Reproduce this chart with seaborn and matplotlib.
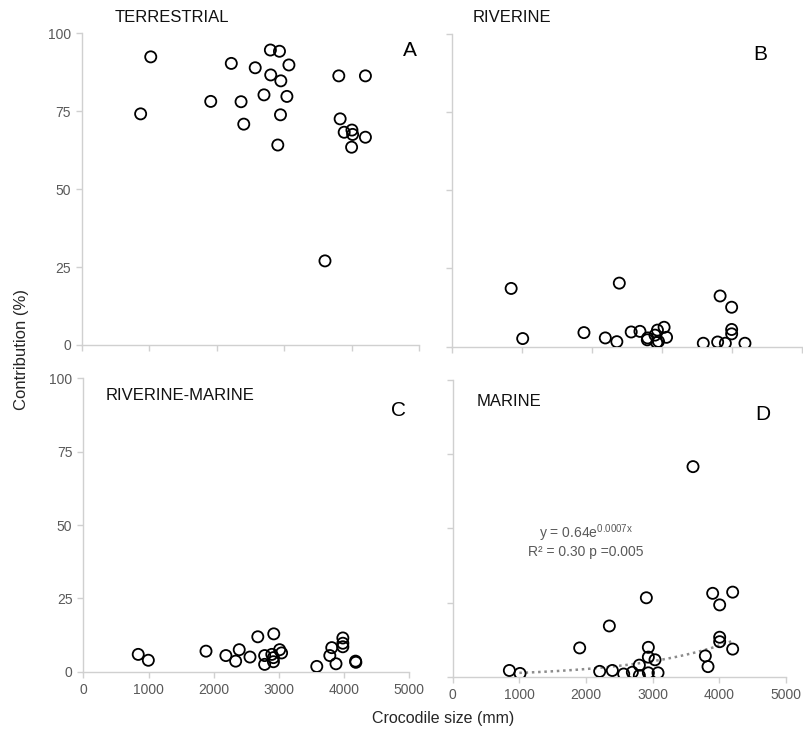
import numpy as np
import pandas as pd
import matplotlib
matplotlib.use("Agg")
import matplotlib.pyplot as plt
import seaborn as sns

# ----------- DATA -------------------------------------

terr_size = [1020, 870, 1910, 2215, 2360, 2400, 2570, 2700, 2795, 2930, 2800, 2950, 3070,
             3040, 2945, 2905, 3605, 3810, 4205, 3830, 3890, 4005, 4015, 4205, 4000]
terr_pct = [92.5, 74.2, 78.2, 90.4, 78.1, 70.9, 89.0, 80.3, 94.7, 94.3, 86.7, 84.8, 89.9,
            79.8, 73.9, 64.2, 27.0, 86.4, 86.4, 72.6, 68.3, 69.0, 67.6, 66.7, 63.5]

riv_size = [845, 1010, 1885, 2190, 2355, 2390, 2560, 2685, 2790, 2795, 2900, 2935, 2925,
            2950, 3030, 3065, 3590, 3795, 3830, 3905, 3995, 3995, 3995, 4185]
riv_pct = [18.6, 2.6, 4.5, 2.8, 1.6, 20.3, 4.7, 4.9, 2.2, 2.8, 3.7, 5.3, 1.3,
           1.7, 6.2, 3.0, 1.1, 1.5, 16.2, 1.1, 12.6, 5.5, 4.1, 1.1]

rm_size = [840, 995, 1880, 2185, 2335, 2390, 2555, 2675, 2780, 2780, 2890, 2920, 2915,
           2915, 3010, 3040, 3580, 3780, 3810, 3875, 3980, 3980, 3980, 4175, 4180]
rm_pct = [5.9, 3.9, 7.0, 5.5, 3.6, 7.5, 5.0, 11.9, 5.5, 2.5, 5.9, 12.9, 4.8,
          3.4, 7.5, 6.4, 1.8, 5.5, 8.2, 2.7, 11.5, 9.7, 8.5, 3.6, 3.2]

mar_size = [850, 1010, 1905, 2205, 2350, 2395, 2565, 2695, 2800, 2800, 2905, 2935, 2935,
            2935, 3035, 3080, 3605, 3790, 3830, 3900, 4005, 4005, 4005, 4200, 4200]
mar_pct = [2.1, 1.1, 9.7, 1.8, 17.1, 2.1, 0.9, 1.5, 3.9, 0.4, 26.6, 9.9, 6.6,
           1.3, 5.7, 1.3, 70.8, 7.0, 3.4, 28.1, 24.2, 13.3, 11.8, 28.5, 9.3]

# exponential fit shown in panel D
fit_a, fit_b = 0.64, 0.0007
fit_range = (1000, 4200)

panels = [
    ("TERRESTRIAL", "A", terr_size, terr_pct),
    ("RIVERINE", "B", riv_size, riv_pct),
    ("RIVERINE-MARINE", "C", rm_size, rm_pct),
    ("MARINE", "D", mar_size, mar_pct),
]

# ----------- STYLE ------------

sns.set_theme(style="white")
plt.rcParams["font.family"] = ["Liberation Sans", "DejaVu Sans"]
plt.rcParams["mathtext.fontset"] = "custom"
plt.rcParams["mathtext.rm"] = "Liberation Sans"

W, H = 804, 729
fig = plt.figure(figsize=(W / 100, H / 100), dpi=100)

# axes boxes in pixels: left, right, top, bottom
boxes = [(82, 419, 33.5, 345), (452, 802, 33.5, 346.7),
         (83.5, 409.3, 378.3, 671.7), (452.7, 786, 380, 676.7)]
# panel title (left, y) and letter (x, y) in pixels
title_pos = [(115, 17), (473, 17), (106, 396), (477, 401.5)]
letter_pos = [(409.5, 50.5), (760, 54), (398.5, 410), (762.5, 414.5)]

grey_axis = "#d0d0d0"
grey_text = "#595959"

for i, (name, letter, sizes, pct) in enumerate(panels):
    l, r, t, b = boxes[i]
    ax = fig.add_axes([l / W, 1 - b / H, (r - l) / W, (b - t) / H])
    df = pd.DataFrame({"size": sizes, "pct": pct})
    sns.scatterplot(data=df, x="size", y="pct", ax=ax, marker="o", s=64,
                    facecolor="none", edgecolor="black", linewidth=1.3, zorder=3)
    ax.set_xlim(0, 5000)
    ax.set_ylim(0, 100)
    ax.set_xticks([0, 1000, 2000, 3000, 4000, 5000])
    ax.set_yticks([0, 25, 50, 75, 100])
    ax.set_xlabel("")
    ax.set_ylabel("")
    for s in ["top", "right"]:
        ax.spines[s].set_visible(False)
    for s in ["left", "bottom"]:
        ax.spines[s].set_color(grey_axis)
        ax.spines[s].set_linewidth(1.0)
    ax.tick_params(direction="out", length=4, width=1.0, color=grey_axis,
                   labelcolor=grey_text, labelsize=10, pad=4,
                   bottom=True, left=True)
    if i in (0, 1):
        ax.tick_params(axis="x", labelbottom=False)
    if i in (1, 3):
        ax.tick_params(axis="y", labelleft=False)
    ax.patch.set_alpha(0)

    fig.text(title_pos[i][0] / W, 1 - title_pos[i][1] / H, name, fontsize=12,
             color="#111111", ha="left", va="center")
    fig.text(letter_pos[i][0] / W, 1 - letter_pos[i][1] / H, letter, fontsize=15,
             color="black", ha="center", va="center")

    if letter == "D":
        xf = np.linspace(fit_range[0], fit_range[1], 100)
        fit_df = pd.DataFrame({"size": xf, "pct": fit_a * np.exp(fit_b * xf)})
        sns.lineplot(data=fit_df, x="size", y="pct", ax=ax, color="#8c8c8c",
                     linestyle=(0, (1, 1.5)), linewidth=1.8, zorder=2)
        ax.set_xlabel("")
        ax.set_ylabel("")
        ax.text(2000, 48.5, r"y = 0.64e$^{\mathregular{0.0007x}}$", fontsize=10,
                color=grey_text, ha="center", va="center")
        ax.text(2000, 42.0, "R² = 0.30 p =0.005", fontsize=10,
                color=grey_text, ha="center", va="center")

fig.text(22 / W, 1 - 350 / H, "Contribution (%)", rotation=90, fontsize=12,
         color="#262626", ha="center", va="center")
fig.text(443 / W, 1 - 718 / H, "Crocodile size (mm)", fontsize=11.5,
         color="#262626", ha="center", va="center")

fig.savefig("out.png", dpi=100)
